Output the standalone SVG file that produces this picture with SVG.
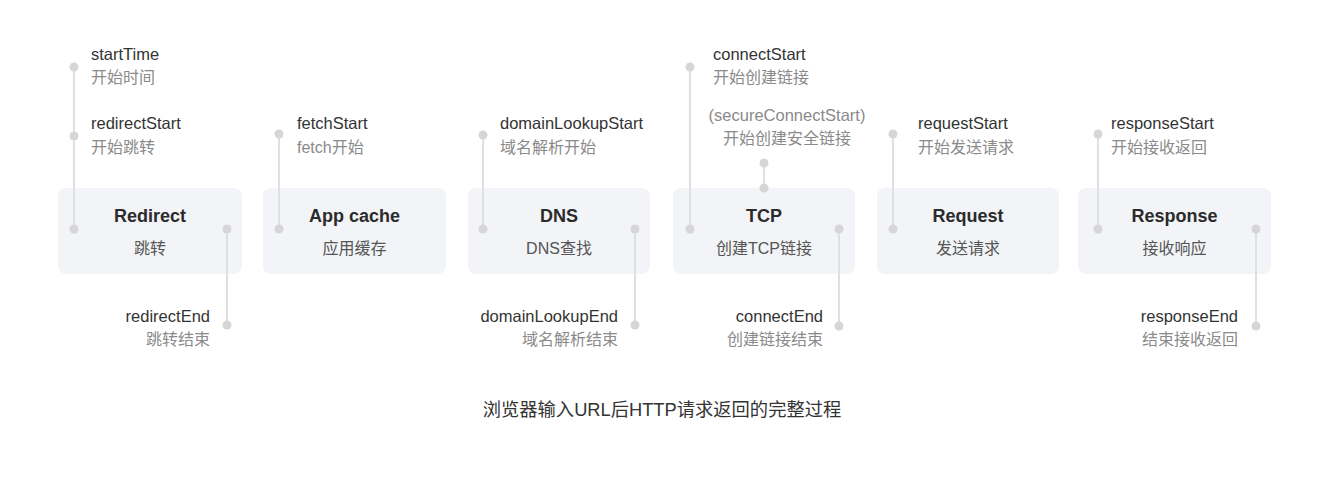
<svg xmlns="http://www.w3.org/2000/svg" width="1323" height="489" viewBox="0 0 1323 489">
<style>
.box{fill:#f2f4f7}
.t{font-family:"Liberation Sans","Noto Sans CJK SC",sans-serif;font-size:18px;font-weight:bold;fill:#2b2b2b;text-anchor:middle}
.s{font-family:"Liberation Sans","Noto Sans CJK SC",sans-serif;font-size:16px;fill:#555;text-anchor:middle}
.en{font-family:"Liberation Sans","Noto Sans CJK SC",sans-serif;font-size:16.5px;fill:#333}
.zh{font-family:"Liberation Sans","Noto Sans CJK SC",sans-serif;font-size:16px;fill:#8a8a8a}
.sec{font-size:16.5px}
.r{text-anchor:end}
.m{text-anchor:middle}
.ln{stroke:#e0e0e0;stroke-width:2;fill:none}
.dot{fill:#d6d6d6}
.cap{font-family:"Liberation Sans","Noto Sans CJK SC",sans-serif;font-size:18.3px;fill:#333;text-anchor:middle}
</style>
<rect width="1323" height="489" fill="#ffffff"/>
<g id="redirect">
<rect class="box" x="58" y="188" width="184" height="86" rx="8"/>
<text class="t" x="150" y="222">Redirect</text>
<text class="s" x="150" y="254">跳转</text>
<text class="en" x="91" y="60">startTime</text>
<text class="zh" x="91" y="83">开始时间</text>
<text class="en" x="91" y="129">redirectStart</text>
<text class="zh" x="91" y="153">开始跳转</text>
<text class="en r" x="210" y="322">redirectEnd</text>
<text class="zh r" x="210" y="345">跳转结束</text>
</g>
<g id="appcache">
<rect class="box" x="263" y="188" width="183" height="86" rx="8"/>
<text class="t" x="354.5" y="222">App cache</text>
<text class="s" x="354.5" y="254">应用缓存</text>
<text class="en" x="297" y="129">fetchStart</text>
<text class="zh" x="297" y="153">fetch开始</text>
</g>
<g id="dns">
<rect class="box" x="468" y="188" width="182" height="86" rx="8"/>
<text class="t" x="559" y="222">DNS</text>
<text class="s" x="559" y="254">DNS查找</text>
<text class="en" x="500" y="129">domainLookupStart</text>
<text class="zh" x="500" y="153">域名解析开始</text>
<text class="en r" x="618" y="322">domainLookupEnd</text>
<text class="zh r" x="618" y="345">域名解析结束</text>
</g>
<g id="tcp">
<rect class="box" x="673" y="188" width="182" height="86" rx="8"/>
<text class="t" x="764" y="222">TCP</text>
<text class="s" x="764" y="254">创建TCP链接</text>
<text class="en" x="713" y="60">connectStart</text>
<text class="zh" x="713" y="83">开始创建链接</text>
<text class="zh m sec" x="787" y="121">(secureConnectStart)</text>
<text class="zh m" x="787" y="144">开始创建安全链接</text>
<text class="en r" x="823" y="322">connectEnd</text>
<text class="zh r" x="823" y="345">创建链接结束</text>
</g>
<g id="request">
<rect class="box" x="877" y="188" width="182" height="86" rx="8"/>
<text class="t" x="968" y="222">Request</text>
<text class="s" x="968" y="254">发送请求</text>
<text class="en" x="918" y="129">requestStart</text>
<text class="zh" x="918" y="153">开始发送请求</text>
</g>
<g id="response">
<rect class="box" x="1078" y="188" width="193" height="86" rx="8"/>
<text class="t" x="1174.5" y="222">Response</text>
<text class="s" x="1174.5" y="254">接收响应</text>
<text class="en" x="1111" y="129">responseStart</text>
<text class="zh" x="1111" y="153">开始接收返回</text>
<text class="en r" x="1238" y="322">responseEnd</text>
<text class="zh r" x="1238" y="345">结束接收返回</text>
</g>
<g id="connectors">
<line class="ln" x1="74" y1="67" x2="74" y2="229"/>
<line class="ln" x1="227" y1="229" x2="227" y2="325"/>
<line class="ln" x1="279" y1="134" x2="279" y2="229"/>
<line class="ln" x1="483" y1="135" x2="483" y2="229"/>
<line class="ln" x1="635" y1="229" x2="635" y2="325"/>
<line class="ln" x1="690" y1="67" x2="690" y2="229"/>
<line class="ln" x1="764" y1="163" x2="764" y2="188"/>
<line class="ln" x1="839" y1="229" x2="839" y2="326"/>
<line class="ln" x1="893" y1="134" x2="893" y2="229"/>
<line class="ln" x1="1098" y1="134" x2="1098" y2="229"/>
<line class="ln" x1="1256" y1="229" x2="1256" y2="326"/>
<circle class="dot" cx="74" cy="67" r="4.5"/>
<circle class="dot" cx="74" cy="136" r="4.5"/>
<circle class="dot" cx="74" cy="229" r="4.5"/>
<circle class="dot" cx="227" cy="229" r="4.5"/>
<circle class="dot" cx="227" cy="325" r="4.5"/>
<circle class="dot" cx="279" cy="134" r="4.5"/>
<circle class="dot" cx="279" cy="229" r="4.5"/>
<circle class="dot" cx="483" cy="135" r="4.5"/>
<circle class="dot" cx="483" cy="229" r="4.5"/>
<circle class="dot" cx="635" cy="229" r="4.5"/>
<circle class="dot" cx="635" cy="325" r="4.5"/>
<circle class="dot" cx="690" cy="67" r="4.5"/>
<circle class="dot" cx="690" cy="229" r="4.5"/>
<circle class="dot" cx="764" cy="163" r="4.5"/>
<circle class="dot" cx="764" cy="188" r="4.5"/>
<circle class="dot" cx="839" cy="229" r="4.5"/>
<circle class="dot" cx="839" cy="326" r="4.5"/>
<circle class="dot" cx="893" cy="134" r="4.5"/>
<circle class="dot" cx="893" cy="229" r="4.5"/>
<circle class="dot" cx="1098" cy="134" r="4.5"/>
<circle class="dot" cx="1098" cy="229" r="4.5"/>
<circle class="dot" cx="1256" cy="229" r="4.5"/>
<circle class="dot" cx="1256" cy="326" r="4.5"/>
</g>
<text class="cap" x="662" y="416">浏览器输入URL后HTTP请求返回的完整过程</text>
</svg>
